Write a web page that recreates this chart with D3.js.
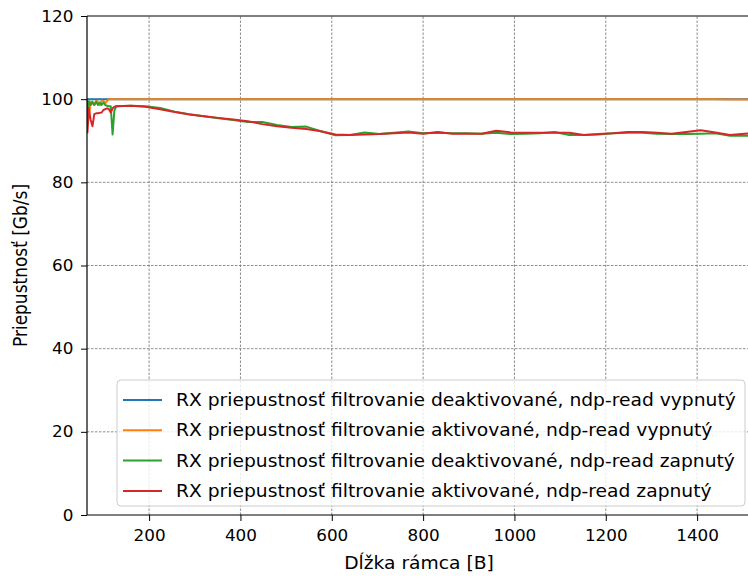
<!DOCTYPE html>
<html>
<head>
<meta charset="utf-8">
<script src="https://cdn.jsdelivr.net/npm/d3@7"></script>
<style>
body { margin: 0; background: #fff; }
text { font-family: "DejaVu Sans", sans-serif; }
</style>
</head>
<body>
<div id="chart"></div>
<script>
// frame sizes [B]
var frameSizes = [64, 65, 68, 72, 76, 80, 84, 88, 92, 96, 100, 104, 108, 112, 116, 120, 124, 128,
    160, 192, 224, 256, 288, 320, 352, 384, 416, 448, 480, 512, 544, 576, 608, 640, 672, 704, 736,
    768, 800, 832, 864, 896, 928, 960, 992, 1024, 1056, 1088, 1120, 1152, 1184, 1216, 1248, 1280,
    1312, 1344, 1376, 1408, 1440, 1472, 1504, 1518];

var rxOffOff = [100, 100, 100, 100, 100, 100, 100, 100, 100, 100, 100, 100, 100, 100, 100, 100, 100, 100,
    100, 100, 100, 100, 100, 100, 100, 100, 100, 100, 100, 100, 100, 100, 100, 100, 100, 100, 100,
    100, 100, 100, 100, 100, 100, 100, 100, 100, 100, 100, 100, 100, 100, 100, 100, 100,
    100, 100, 100, 100, 100, 100, 100, 100];

var rxOnOff = [100, 96, 95.5, 99.4, 99, 98.6, 99.6, 99.4, 98.5, 99.6, 99.6, 99.0, 99.6, 100, 100, 100, 100, 100,
    100, 100, 100, 100, 100, 100, 100, 100, 100, 100, 100, 100, 100, 100, 100, 100, 100, 100, 100,
    100, 100, 100, 100, 100, 100, 100, 100, 100, 100, 100, 100, 100, 100, 100, 100, 100,
    100, 100, 100, 100, 100, 99.9, 99.9, 99.9];

var rxOffOn = [100, 95, 99.5, 98.6, 99.4, 98.6, 99.4, 98.6, 99.2, 98.6, 99.2, 98.6, 98.4, 98.3, 98.3, 91.5, 97.3, 98.3,
    98.4, 98.3, 97.9, 97.0, 96.4, 95.9, 95.4, 95.0, 94.5, 94.5, 93.8, 93.3, 93.4, 92.3, 91.3, 91.4, 92.0, 91.6, 91.9,
    92.2, 91.8, 91.9, 91.8, 91.8, 91.7, 91.9, 91.6, 91.7, 91.8, 92.1, 91.4, 91.4, 91.5, 91.8, 91.9, 91.9,
    91.7, 91.6, 91.6, 91.7, 91.8, 91.2, 91.2, 91.2];

var rxOnOn = [100, 92, 97.8, 95, 93.5, 96.4, 96.6, 96.6, 96.7, 96.8, 97.4, 97.6, 97.8, 97.6, 96.8, 97.8, 98.2, 98.3,
    98.4, 98.2, 97.6, 96.9, 96.3, 95.9, 95.5, 95.1, 94.7, 94.0, 93.5, 93.1, 92.8, 92.3, 91.5, 91.4, 91.5, 91.6, 91.8,
    92.0, 91.7, 92.1, 91.7, 91.7, 91.7, 92.4, 92.0, 91.9, 91.9, 91.9, 91.9, 91.4, 91.6, 91.8, 92.1, 92.1,
    91.9, 91.7, 92.1, 92.5, 92.0, 91.4, 91.7, 91.8];

var seriesNames = [
    "RX priepustnosť filtrovanie deaktivované, ndp-read vypnutý",
    "RX priepustnosť filtrovanie aktivované, ndp-read vypnutý",
    "RX priepustnosť filtrovanie deaktivované, ndp-read zapnutý",
    "RX priepustnosť filtrovanie aktivované, ndp-read zapnutý"
];
var seriesColors = ["#1f77b4", "#ff7f0e", "#2ca02c", "#d62728"];
var xTicks = [200, 400, 600, 800, 1000, 1200, 1400];
var yTicks = [0, 20, 40, 60, 80, 100, 120];

var allSeries = [rxOffOff, rxOnOff, rxOffOn, rxOnOn];

var width = 748, height = 577;
var margin = {left: 87, top: 16, right: -3, bottom: 62};
var stretch = 1.1; // text in the picture is a bit wider than tall

var svg = d3.select("#chart").append("svg")
    .attr("width", width).attr("height", height);

var x = d3.scaleLinear().domain([64, 1518]).range([margin.left, width - margin.right]);
var y = d3.scaleLinear().domain([0, 120]).range([height - margin.bottom, margin.top]);

// grid
svg.append("g").selectAll("line").data(xTicks).enter().append("line")
    .attr("x1", function(d) { return x(d); }).attr("x2", function(d) { return x(d); })
    .attr("y1", y(0)).attr("y2", y(120))
    .attr("stroke", "#707070").attr("stroke-width", 0.8).attr("stroke-dasharray", "2.5,1.5");
svg.append("g").selectAll("line").data(yTicks.slice(1, -1)).enter().append("line")
    .attr("x1", x(64)).attr("x2", x(1518))
    .attr("y1", function(d) { return y(d); }).attr("y2", function(d) { return y(d); })
    .attr("stroke", "#707070").attr("stroke-width", 0.8).attr("stroke-dasharray", "2.5,1.5");

// lines
svg.append("clipPath").attr("id", "clip").append("rect")
    .attr("x", x(64)).attr("y", y(120) - 2).attr("width", x(1518) - x(64)).attr("height", y(0) - y(120) + 2);

var line = d3.line()
    .x(function(d, i) { return x(frameSizes[i]); })
    .y(function(d) { return y(d); });

svg.append("g").attr("clip-path", "url(#clip)").selectAll("path").data(allSeries).enter().append("path")
    .attr("d", line)
    .attr("fill", "none")
    .attr("stroke", function(d, i) { return seriesColors[i]; })
    .attr("stroke-width", 2)
    .attr("stroke-linejoin", "round");

// axes
var xAxis = svg.append("g").attr("transform", "translate(0," + y(0) + ")")
    .call(d3.axisBottom(x).tickValues(xTicks).tickFormat(d3.format("d")).tickSize(6).tickPadding(9));
var yAxis = svg.append("g").attr("transform", "translate(" + x(64) + ",0)")
    .call(d3.axisLeft(y).tickValues(yTicks).tickFormat(d3.format("d")).tickSize(6).tickPadding(7));
[xAxis, yAxis].forEach(function(a) {
    a.selectAll("text").attr("font-size", 16).attr("font-family", "DejaVu Sans").attr("fill", "#000")
        .attr("transform", "scale(1.05,1)");
    a.selectAll("line").attr("stroke", "#000").attr("stroke-width", 1);
    a.select(".domain").attr("stroke", "#000").attr("stroke-width", 1.2);
});
xAxis.select(".domain").attr("d", "M" + x(64) + ",0H" + x(1518));
yAxis.select(".domain").attr("d", "M0," + y(0) + "V" + y(120));
svg.append("line").attr("x1", x(64)).attr("x2", x(1518)).attr("y1", y(120)).attr("y2", y(120))
    .attr("stroke", "#000").attr("stroke-width", 1.2);

// axis labels
svg.append("text").attr("transform", "translate(" + (x(64) + x(1518)) / 2 + ",569) scale(" + stretch + ",1)")
    .attr("text-anchor", "middle").attr("font-size", 17).text("Dĺžka rámca [B]");
svg.append("text").attr("transform", "translate(27," + (y(0) + y(120)) / 2 + ") scale(" + stretch + ",1) rotate(-90)")
    .attr("text-anchor", "middle").attr("font-size", 17).text("Priepustnosť [Gb/s]");

// legend
var legend = svg.append("g").attr("transform", "translate(117,380)");
legend.append("rect").attr("width", 628).attr("height", 126).attr("rx", 4)
    .attr("fill", "#fff").attr("fill-opacity", 0.8).attr("stroke", "#cccccc").attr("stroke-width", 1);
var item = legend.selectAll("g.item").data(seriesNames).enter().append("g")
    .attr("transform", function(d, i) { return "translate(0," + (20 + i * 30.3) + ")"; });
item.append("line").attr("x1", 6).attr("x2", 45)
    .attr("stroke", function(d, i) { return seriesColors[i]; }).attr("stroke-width", 2);
item.append("text").attr("transform", "translate(59,0) scale(" + stretch + ",1)").attr("dy", "0.35em")
    .attr("font-size", 17).text(function(d) { return d; });
</script>
</body>
</html>
